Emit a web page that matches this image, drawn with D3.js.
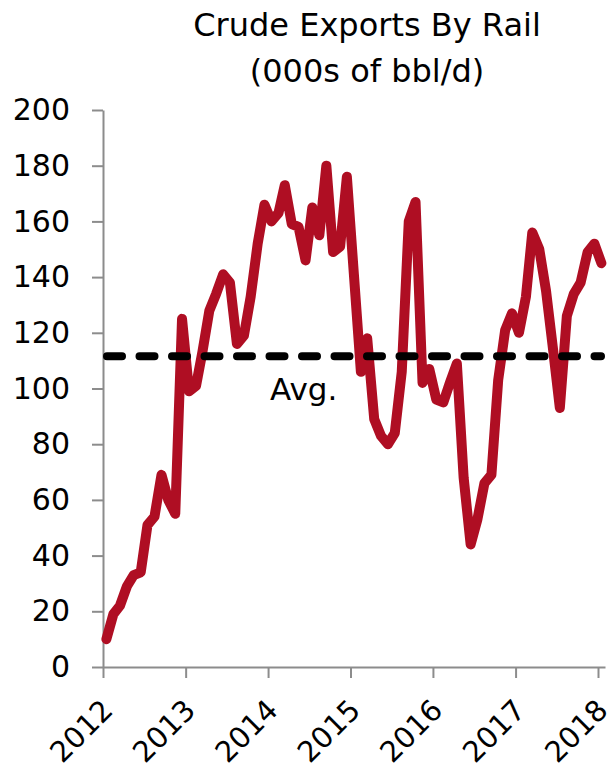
<!DOCTYPE html>
<html>
<head>
<meta charset="utf-8">
<script src="https://cdn.jsdelivr.net/npm/d3@7/dist/d3.min.js"></script>
<style>
  body { margin: 0; background: #fff; }
  svg { display: block; }
</style>
</head>
<body>
<script>
// Monthly crude exports by rail, thousand barrels per day, Jan 2012 – Jan 2018
const exportsByRail = [
  10, 19, 22, 29, 33, 34, 51, 54, 69, 60, 55, 125,      // 2012
  99, 101, 113, 128, 134, 141, 138, 116, 119, 133, 152, 166, // 2013
  160, 163, 173, 159, 158, 146, 165, 155, 180, 149, 151, 176, // 2014
  141, 106, 118, 89, 83, 80, 84, 106, 160, 167, 102, 107,     // 2015
  96, 95, 102, 109, 68, 44, 53, 66, 69, 103, 121, 127,        // 2016
  120, 133, 156, 150, 135, 114, 93, 126, 134, 138, 149, 152,  // 2017
  145                                                         // 2018
];
const firstYear = 2012;
const yearLabels = ["2012", "2013", "2014", "2015", "2016", "2017", "2018"];
const yTickValues = [0, 20, 40, 60, 80, 100, 120, 140, 160, 180, 200];
const avgLevel = 111.6;
const avgLabel = "Avg.";
const titleLines = ["Crude Exports By Rail", "(000s of bbl/d)"];

const W = 615, H = 770;
const FONT = "'DejaVu Sans', sans-serif";
const AXIS_GREY = "#8c8c8c";
const LINE_RED = "#af0e23";

const svg = d3.select("body").append("svg")
  .attr("width", W).attr("height", H)
  .style("font-family", FONT);

const series = exportsByRail.map((v, i) => ({ date: new Date(firstYear, i, 16), value: v }));

const x = d3.scaleTime()
  .domain([new Date(firstYear, 0, 1), new Date(firstYear, exportsByRail.length, 1)])
  .range([103, 605]);
const y = d3.scaleLinear().domain([0, 200]).range([667, 110]);

// Title
svg.append("g").selectAll("text")
  .data(titleLines)
  .join("text")
  .attr("x", 367)
  .attr("y", (d, i) => 36 + i * 46)
  .attr("text-anchor", "middle")
  .attr("font-size", 32)
  .attr("fill", "#000")
  .text(d => d);

// Y axis
const yAxis = svg.append("g")
  .attr("transform", `translate(${x.range()[0]},0)`)
  .call(d3.axisLeft(y).tickValues(yTickValues).tickSize(11).tickSizeOuter(0).tickPadding(22));
yAxis.selectAll("path, line").attr("stroke", AXIS_GREY).attr("stroke-width", 2);
yAxis.selectAll("text")
  .attr("font-size", 30)
  .attr("font-family", FONT)
  .attr("fill", "#000");

// X axis
const xAxis = svg.append("g")
  .attr("transform", `translate(0,${y(0)})`)
  .call(d3.axisBottom(x)
    .tickValues(yearLabels.map(yr => new Date(+yr, 0, 1)))
    .tickFormat((d, i) => yearLabels[i])
    .tickSize(11).tickSizeOuter(0));
xAxis.selectAll("path, line").attr("stroke", AXIS_GREY).attr("stroke-width", 2);
xAxis.selectAll("text")
  .attr("x", 0).attr("y", 0).attr("dy", 0)
  .attr("text-anchor", "end")
  .attr("transform", "translate(11,45) rotate(-45)")
  .attr("font-size", 29)
  .attr("font-family", FONT)
  .attr("fill", "#000");

// Export series
const line = d3.line().x(d => x(d.date)).y(d => y(d.value));
svg.append("path")
  .datum(series)
  .attr("d", line)
  .attr("fill", "none")
  .attr("stroke", LINE_RED)
  .attr("stroke-width", 10)
  .attr("stroke-linejoin", "round")
  .attr("stroke-linecap", "round");

// Average level
svg.append("line")
  .attr("x1", x.range()[0] + 4).attr("x2", x.range()[1] - 4)
  .attr("y1", y(avgLevel)).attr("y2", y(avgLevel))
  .attr("stroke", "#000")
  .attr("stroke-width", 8)
  .attr("stroke-linecap", "round")
  .attr("stroke-dasharray", "15 17.5");

svg.append("text")
  .attr("x", 270)
  .attr("y", 400)
  .attr("font-size", 31)
  .attr("fill", "#000")
  .text(avgLabel);
</script>
</body>
</html>
